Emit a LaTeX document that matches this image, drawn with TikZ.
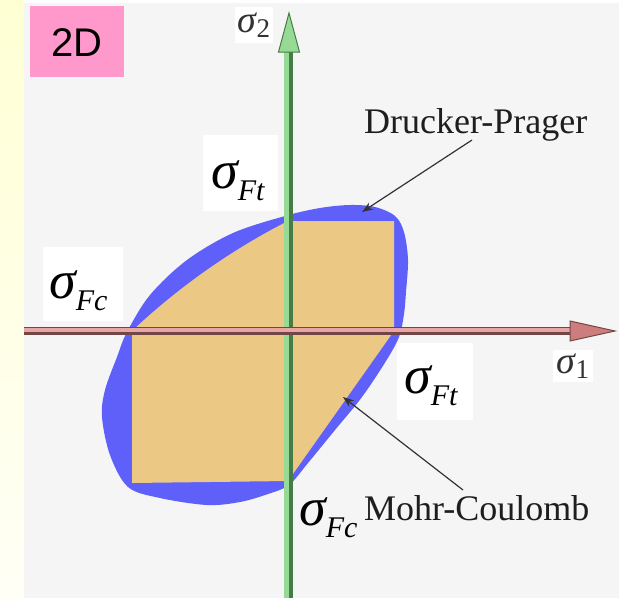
\documentclass[tikz,border=0pt]{standalone}
\usepackage{fontspec}
\setmainfont{Liberation Serif}
\newfontfamily\arialfont{Liberation Sans}
\usetikzlibrary{arrows.meta}
\definecolor{panelgray}{RGB}{245,245,245}
\definecolor{stripyellow}{RGB}{255,255,212}
\definecolor{stripwhite}{RGB}{255,255,246}
\definecolor{labelpink}{RGB}{255,153,204}
\definecolor{dpblue}{RGB}{95,95,250}
\definecolor{mcorange}{RGB}{235,201,133}
\definecolor{axgreen}{RGB}{150,218,150}
\definecolor{axgreendark}{RGB}{70,125,70}
\definecolor{axpink}{RGB}{232,165,165}
\definecolor{axpinkdark}{RGB}{115,70,70}
\definecolor{axpinktip}{RGB}{205,125,125}
\definecolor{lbltext}{RGB}{30,30,30}
\definecolor{smallgray}{RGB}{50,50,50}
\newcommand{\bigsig}[1]{{\fontsize{54}{54}\selectfont\itshape σ\raisebox{-12pt}{\fontsize{30}{30}\selectfont #1}}}
\newcommand{\smallsig}[1]{{\itshape σ}\raisebox{-5pt}{\fontsize{27}{27}\selectfont #1}}
\tikzset{
  sigbox/.style={fill=white, inner sep=0pt, draw=none},
  siglab/.style={inner sep=0pt, anchor=base west, text=black},
  smalllab/.style={fill=white, inner sep=0pt, text=smallgray, font=\fontsize{38}{38}\selectfont},
  bigtext/.style={anchor=base west, inner sep=0pt, text=lbltext, font=\fontsize{36}{36}\selectfont},
  callout/.style={draw=black!80, line width=1.2pt, -{Stealth[length=11pt,width=8pt]}}
}
\begin{document}
\begin{tikzpicture}[x=1pt,y=-1pt]
\useasboundingbox (0,0) rectangle (619,598);
% background
\fill[white] (0,0) rectangle (619,598);
\shade[top color=stripyellow, bottom color=stripwhite] (0,0) rectangle (24,598);
\fill[panelgray] (24,3) rectangle (619,598);
% 2D label
\node[fill=labelpink, minimum width=94pt, minimum height=71pt, inner sep=0pt,
      text height=29pt, text depth=0pt, font=\arialfont\fontsize{40}{40}\selectfont] (dim) at (77,41.5) {2D};
% Drucker-Prager surface
\fill[dpblue] plot[smooth cycle, tension=0.55] coordinates {
  (150,295) (187,260) (233,233) (285,216) (320,208) (350,205) (375,207)
  (395,216) (404,232) (408,260) (406,292) (404,314) (399,337) (386,361)
  (362,397) (335,430) (308,463) (289,485) (268,494) (240,502) (207,505)
  (160,498) (128,487) (110,455) (102,417) (105,390) (117,357) (127,332)};
% Mohr-Coulomb surface
\fill[mcorange] (132,331) .. controls (178.8,287) and (230.8,250.3) .. (288,221)
  -- (394,221) -- (394,331) -- (288,481) -- (132,483) -- cycle;
% axes
\coordinate (ybot) at (288,598);
\coordinate (ybase) at (288,52);
\coordinate (ytip) at (289,13);
\draw[axgreendark, line width=9pt] (ybot) -- (ybase);
\draw[axgreen, line width=5pt] ([xshift=-1.5pt]ybot) -- ([xshift=-1.5pt]ybase);
\filldraw[fill=axgreen, draw=axgreendark, line width=1pt] (ytip) -- (278.5,52) -- (299.5,52) -- cycle;
\coordinate (xl) at (24,331);
\coordinate (xbase) at (570,331);
\coordinate (xtip) at (615,331);
\draw[axpinkdark, line width=8pt] (xl) -- (xbase);
\draw[axpink, line width=4.5pt] ([yshift=0.8pt]xl) -- ([yshift=0.8pt]xbase);
\filldraw[fill=axpinktip, draw=axpinkdark, line width=1pt] (xtip) -- (570,321) -- (570,341) -- cycle;
% axis labels
\node[smalllab, minimum width=38pt, minimum height=36pt] (s2) at (254,25) {\smallsig{2}};
\node[smalllab, minimum width=40pt, minimum height=32pt] (s1) at (573,366) {\smallsig{1}};
% strength labels
\node[sigbox, minimum width=75pt, minimum height=76pt] (ftTopBox) at (240.5,173) {};
\node[siglab] (ftTop) at (211,188) {\bigsig{Ft}};
\node[sigbox, minimum width=80pt, minimum height=74pt] (fcLeftBox) at (83,284) {};
\node[siglab] (fcLeft) at (49,298) {\bigsig{Fc}};
\node[sigbox, minimum width=76pt, minimum height=77pt] (ftRightBox) at (435,381.5) {};
\node[siglab] (ftRight) at (404,393) {\bigsig{Ft}};
\node[siglab] (fcBottom) at (299,525) {\bigsig{Fc}};
% model names and callouts
\node[bigtext] (dpText) at (364,133) {Drucker-Prager};
\node[bigtext] (mcText) at (364,520) {Mohr-Coulomb};
\coordinate (dpTail) at (472,140);
\coordinate (dpTip) at (362,212);
\coordinate (mcTail) at (463,490);
\coordinate (mcTip) at (343,397);
\draw[callout] (dpTail) -- (dpTip);
\draw[callout] (mcTail) -- (mcTip);
\end{tikzpicture}
\end{document}
